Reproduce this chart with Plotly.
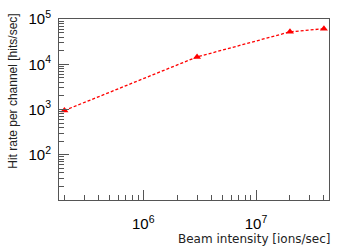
import plotly.graph_objects as go

beam_intensity = [2e5, 3e6, 2e7, 4e7]
hit_rate = [950, 14500, 52000, 61000]

x_tick_vals = [1e6, 1e7]
x_tick_text = ["10<sup>6</sup>", "10<sup>7</sup>"]
y_tick_vals = [1e2, 1e3, 1e4, 1e5]
y_tick_text = ["10<sup>2</sup>", "10<sup>3</sup>", "10<sup>4</sup>", "10<sup>5</sup>"]

fig = go.Figure()
fig.add_trace(go.Scatter(
    x=beam_intensity, y=hit_rate, mode="lines+markers",
    line=dict(color="#ff0000", width=1.3, dash="3px,2px"),
    marker=dict(symbol="triangle-up", size=7, color="#ff0000"),
    showlegend=False,
))

axis_common = dict(
    showline=True, linecolor="#555555", linewidth=1, mirror=True,
    showgrid=False, zeroline=False, ticks="inside", tickcolor="#555555",
    tickfont=dict(family="Liberation Sans, Arial", size=15, color="black"),
)

fig.update_xaxes(
    type="log", range=[5.253, 7.647],
    tickvals=x_tick_vals, ticktext=x_tick_text, ticklen=10,
    minor=dict(ticks="inside", ticklen=5, tickcolor="#555555", dtick="D1", showgrid=False),
    ticklabelstandoff=10,
    **axis_common,
)
fig.update_yaxes(
    type="log", range=[1.0, 5.0],
    tickvals=y_tick_vals, ticktext=y_tick_text, ticklen=10,
    minor=dict(ticks="inside", ticklen=5, tickcolor="#555555", dtick="D1", showgrid=False),
    ticklabelstandoff=4,
    **axis_common,
)

fig.add_annotation(
    text="Hit rate per channel [hits/sec]", textangle=-90,
    xref="paper", yref="paper", x=-0.169, y=0.60,
    xanchor="center", yanchor="middle", showarrow=False,
    font=dict(family="Liberation Sans, Arial", size=12, color="#222222"),
)
fig.add_annotation(
    text="Beam intensity [ions/sec]",
    xref="paper", yref="paper", x=1.01, y=-0.218,
    xanchor="right", yanchor="middle", showarrow=False,
    font=dict(family="DejaVu Sans", size=12, color="#222222"),
)

fig.update_layout(
    width=338, height=249,
    margin=dict(l=59, r=8, t=12, b=49),
    paper_bgcolor="white", plot_bgcolor="white",
)

fig.write_html(
    "out.html",
    config={"displayModeBar": False},
    post_script="document.body.style.margin='0';document.body.style.overflow='hidden';",
)
